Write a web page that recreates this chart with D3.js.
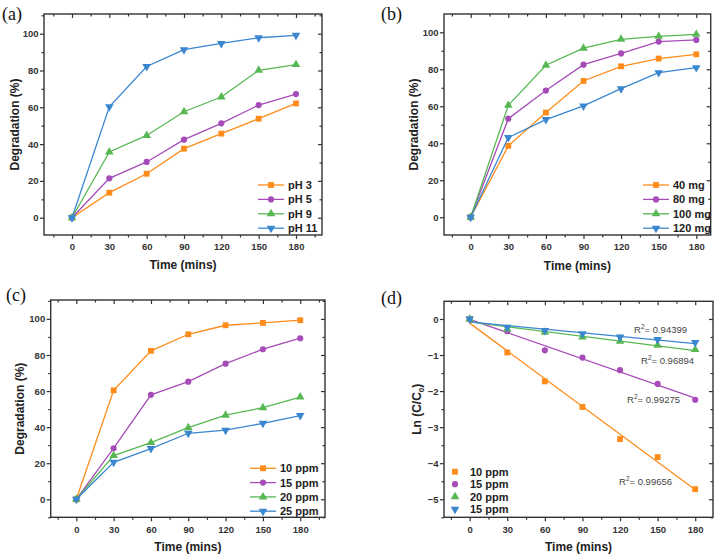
<!DOCTYPE html>
<html><head><meta charset="utf-8">
<script src="https://cdn.jsdelivr.net/npm/d3@7"></script>
<style>body{margin:0;background:#fff}svg{display:block}</style>
</head><body>
<svg id="c" width="728" height="559"></svg>
<script>
// ---------- data ----------
const timeMins = [0, 30, 60, 90, 120, 150, 180];
const xTickValues = [0, 30, 60, 90, 120, 150, 180];
const degTickValues = [0, 20, 40, 60, 80, 100];
const lnTickValues = [0, -1, -2, -3, -4, -5];

// (a) effect of pH
const phLabels = ["pH 3", "pH 5", "pH 9", "pH 11"];
const pH3  = [0, 13.6, 23.9, 37.5, 45.7, 53.8, 62.1];
const pH5  = [0, 21.4, 30.3, 42.4, 51.3, 61.2, 67.2];
const pH9  = [0, 35.7, 44.7, 57.6, 65.6, 80.1, 83.2];
const pH11 = [0, 60.3, 82.2, 91.3, 94.7, 97.8, 99.1];

// (b) effect of catalyst dose
const doseLabels = ["40 mg", "80 mg", "100 mg", "120 mg"];
const dose40  = [0, 38.6, 56.6, 73.7, 81.6, 85.8, 88.1];
const dose80  = [0, 53.3, 68.5, 82.5, 88.6, 95.0, 95.9];
const dose100 = [0, 60.5, 82.2, 91.4, 96.2, 97.8, 98.9];
const dose120 = [0, 43.1, 52.8, 60.2, 69.5, 78.2, 80.9];

// (c) effect of initial concentration
const concLabels = ["10 ppm", "15 ppm", "20 ppm", "25 ppm"];
const conc10 = [0, 60.4, 82.3, 91.5, 96.5, 97.8, 99.3];
const conc15 = [0, 28.3, 57.9, 65.2, 75.2, 83.2, 89.3];
const conc20 = [0, 24.2, 31.4, 39.7, 46.6, 50.8, 56.7];
const conc25 = [0, 20.5, 28.1, 36.6, 38.3, 42.1, 46.4];

// (d) kinetics ln(C/C0)
const kinLabels = ["10 ppm", "15 ppm", "20 ppm", "15 ppm"];
const ln10 = [0, -0.93, -1.73, -2.44, -3.33, -3.83, -4.72];
const ln15 = [0, -0.34, -0.87, -1.07, -1.42, -1.80, -2.24];
const ln20 = [0, -0.28, -0.37, -0.50, -0.62, -0.73, -0.85];
const ln25 = [0, -0.23, -0.32, -0.41, -0.50, -0.57, -0.65];
const r2Labels = ["0.99656", "0.99275", "0.96894", "0.94399"];

// ---------- style ----------
const colors = ["#FF8C1A", "#A64CB8", "#57B853", "#3A86D0"];
const symbols = ["square", "circle", "triangle", "down"];
const FONT = "'Liberation Sans', Arial, Helvetica, sans-serif";
const svg = d3.select("#c");

function symPath(kind) {
  if (kind === "square") return d3.symbol(d3.symbolSquare, 34)();
  if (kind === "circle") return d3.symbol(d3.symbolCircle, 30)();
  return d3.symbol(d3.symbolTriangle, 32)();
}
function drawMarker(g, kind, cx, cy, color) {
  g.append("path").attr("d", symPath(kind))
    .attr("transform", `translate(${cx},${cy})` + (kind === "down" ? " rotate(180)" : ""))
    .attr("fill", color);
}
function range(a, b, s) { const r = []; for (let v = a; v <= b + 1e-9; v += s) r.push(+v.toFixed(6)); return r; }

function panel(o) {
  const [x0, y0, x1, y1] = o.frame;
  const x = d3.scaleLinear().domain(o.xDomain).range([x0, x1]);
  const y = d3.scaleLinear().domain(o.yDomain).range([y1, y0]);
  const g = svg.append("g");
  const inX = v => v >= o.xDomain[0] && v <= o.xDomain[1];
  const inY = v => v >= o.yDomain[0] && v <= o.yDomain[1];
  const xMinor = range(-15, 195, 30).filter(inX);
  const yMinor = o.yMinor.filter(inY);

  const styleAxis = (sel) => {
    sel.select(".domain").remove();
    sel.selectAll("line").attr("stroke", "#333").attr("stroke-width", 1.2);
    sel.selectAll("text").attr("font-family", FONT).attr("font-weight", "bold")
      .attr("font-size", "9.5px").attr("fill", "#333");
  };
  // bottom major + minor (outward)
  g.append("g").attr("transform", `translate(0,${y1})`)
    .call(d3.axisBottom(x).tickValues(xTickValues).tickSize(4).tickPadding(4.5).tickFormat(d3.format("d")))
    .call(styleAxis);
  g.append("g").attr("transform", `translate(0,${y1})`)
    .call(d3.axisBottom(x).tickValues(xMinor).tickSize(2.5).tickFormat(""))
    .call(styleAxis);
  // top (inward)
  g.append("g").attr("transform", `translate(0,${y0})`)
    .call(d3.axisTop(x).tickValues(xTickValues).tickSize(-4).tickFormat(""))
    .call(styleAxis);
  g.append("g").attr("transform", `translate(0,${y0})`)
    .call(d3.axisTop(x).tickValues(xMinor).tickSize(-2.5).tickFormat(""))
    .call(styleAxis);
  // left (outward)
  g.append("g").attr("transform", `translate(${x0},0)`)
    .call(d3.axisLeft(y).tickValues(o.yTicks).tickSize(4).tickPadding(1.5).tickFormat(d3.format("d")))
    .call(styleAxis);
  g.append("g").attr("transform", `translate(${x0},0)`)
    .call(d3.axisLeft(y).tickValues(yMinor).tickSize(2.5).tickFormat(""))
    .call(styleAxis);
  // right (inward)
  g.append("g").attr("transform", `translate(${x1},0)`)
    .call(d3.axisRight(y).tickValues(o.yTicks).tickSize(-4).tickFormat(""))
    .call(styleAxis);
  g.append("g").attr("transform", `translate(${x1},0)`)
    .call(d3.axisRight(y).tickValues(yMinor).tickSize(-2.5).tickFormat(""))
    .call(styleAxis);
  // frame
  g.append("rect").attr("x", x0).attr("y", y0).attr("width", x1 - x0).attr("height", y1 - y0)
    .attr("fill", "none").attr("stroke", "#333").attr("stroke-width", 1.4);

  // series
  o.series.forEach((vals, i) => {
    const pts = timeMins.map((t, k) => [t, vals[k]]);
    if (o.lines) {
      g.append("path").datum(pts)
        .attr("d", d3.line().x(d => x(d[0])).y(d => y(d[1])))
        .attr("fill", "none").attr("stroke", colors[i]).attr("stroke-width", 1.3);
    } else {
      // least-squares fit line
      const mx = d3.mean(timeMins), my = d3.mean(vals);
      const sxy = d3.sum(timeMins, (t, k) => (t - mx) * (vals[k] - my));
      const sxx = d3.sum(timeMins, t => (t - mx) * (t - mx));
      const b = sxy / sxx, a = my - b * mx;
      g.append("line").attr("x1", x(0)).attr("y1", y(a)).attr("x2", x(180)).attr("y2", y(a + b * 180))
        .attr("stroke", colors[i]).attr("stroke-width", 1.3);
    }
    pts.forEach(p => drawMarker(g, symbols[i], x(p[0]), y(p[1]), colors[i]));
  });

  // legend
  o.labels.forEach((lab, i) => {
    const ly = o.legend.y + i * o.legend.dy;
    const lx = o.legend.x;
    if (o.lines) {
      g.append("line").attr("x1", lx).attr("x2", lx + 26).attr("y1", ly).attr("y2", ly)
        .attr("stroke", colors[i]).attr("stroke-width", 1.3);
      drawMarker(g, symbols[i], lx + 13, ly, colors[i]);
      g.append("text").attr("x", lx + 30).attr("y", ly + 4).text(lab)
        .attr("font-family", FONT).attr("font-weight", "bold").attr("font-size", "11px").attr("fill", "#222");
    } else {
      drawMarker(g, symbols[i], lx, ly, colors[i]);
      g.append("text").attr("x", lx + 15).attr("y", ly + 4).text(lab)
        .attr("font-family", FONT).attr("font-weight", "bold").attr("font-size", "11px").attr("fill", "#222");
    }
  });

  // axis titles
  g.append("text").attr("x", (x0 + x1) / 2).attr("y", o.xTitleY).attr("text-anchor", "middle")
    .attr("font-family", FONT).attr("font-weight", "bold").attr("font-size", "12px").attr("fill", "#222")
    .text("Time (mins)");
  const yt = g.append("text").attr("transform", `translate(${o.yTitleX},${(y0 + y1) / 2}) rotate(-90)`)
    .attr("text-anchor", "middle").attr("font-family", FONT).attr("font-weight", "bold")
    .attr("font-size", "12px").attr("fill", "#222");
  if (o.lnTitle) {
    yt.append("tspan").text("Ln (C/C");
    yt.append("tspan").attr("font-size", "8px").attr("dy", 3).text("0");
    yt.append("tspan").attr("dy", -3).text(")");
  } else {
    yt.text("Degradation (%)");
  }
  // panel label
  svg.append("text").attr("x", o.tag[0]).attr("y", o.tag[1]).text(o.tag[2])
    .attr("font-family", "'Liberation Serif', 'Times New Roman', serif").attr("font-size", "18px").attr("fill", "#111");
  return { g, x, y };
}

panel({
  frame: [44, 14, 322, 235], xDomain: [-22.5, 200.9], yDomain: [-9.4, 110.7],
  yTicks: degTickValues, yMinor: range(-10, 110, 20),
  series: [pH3, pH5, pH9, pH11], labels: phLabels, lines: true,
  legend: { x: 258, y: 185, dy: 14.4 }, xTitleY: 269, yTitleX: 19, tag: [2, 20, "(a)"]
});
panel({
  frame: [444, 14, 710.7, 235], xDomain: [-21.3, 191.5], yDomain: [-9.6, 109.9],
  yTicks: degTickValues, yMinor: range(-10, 110, 20),
  series: [dose40, dose80, dose100, dose120], labels: doseLabels, lines: true,
  legend: { x: 643, y: 185, dy: 14.4 }, xTitleY: 270, yTitleX: 418, tag: [381, 20, "(b)"]
});
panel({
  frame: [50.7, 300, 325, 517.3], xDomain: [-20.6, 199.9], yDomain: [-10, 110.5],
  yTicks: degTickValues, yMinor: range(-10, 110, 20),
  series: [conc10, conc15, conc20, conc25], labels: concLabels, lines: true,
  legend: { x: 250, y: 468.3, dy: 14.3 }, xTitleY: 551, yTitleX: 24, tag: [6, 301, "(c)"]
});
const pd = panel({
  frame: [444, 301.3, 713, 517.3], xDomain: [-20.5, 194.2], yDomain: [-5.5, 0.49],
  yTicks: lnTickValues, yMinor: range(-5.5, 0.5, 1),
  series: [ln10, ln15, ln20, ln25], labels: kinLabels, lines: false, lnTitle: true,
  legend: { x: 455, y: 471.7, dy: 12.5 }, xTitleY: 551, yTitleX: 421, tag: [381, 304, "(d)"]
});
// R² annotations
const r2Pos = [[619, 485], [627, 403], [641, 364], [634, 333]];
r2Labels.forEach((v, i) => {
  const t = pd.g.append("text").attr("x", r2Pos[i][0]).attr("y", r2Pos[i][1])
    .attr("font-family", FONT).attr("font-size", "9.5px").attr("fill", "#444");
  t.append("tspan").text("R");
  t.append("tspan").attr("font-size", "6.5px").attr("dy", -4).text("2");
  t.append("tspan").attr("dy", 4).text("= " + v);
});
</script>
</body></html>
